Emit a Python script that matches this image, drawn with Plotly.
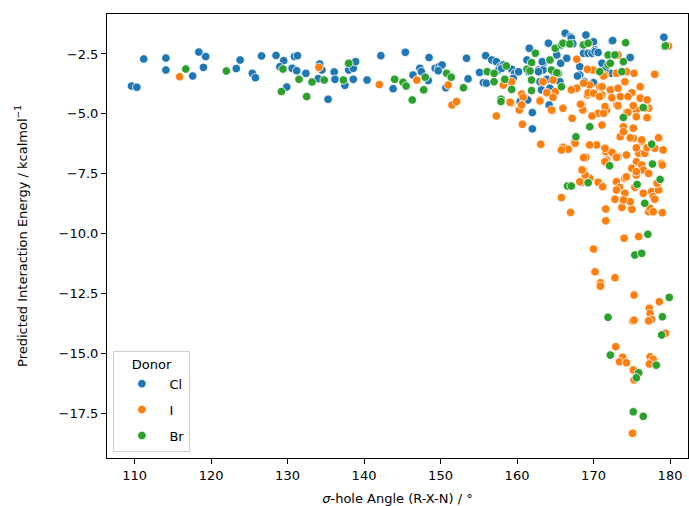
import plotly.graph_objects as go

# Donor = Cl : (sigma-hole angle, predicted interaction energy)
cl_data = [
    (109.6,-3.84),(110.3,-3.89),(111.2,-2.71),(114.1,-2.67),(114.1,-3.17),(117.6,-3.42),(118.4,-2.42),
    (119.3,-2.61),(119.0,-3.06),(123.3,-3.11),(123.8,-2.75),(125.4,-3.31),(125.8,-3.49),(126.6,-2.58),
    (128.5,-2.56),(129.5,-2.78),(129.0,-3.03),(130.9,-2.61),(131.3,-2.57),(130.6,-3.10),(131.2,-3.20),
    (129.9,-3.88),(132.4,-3.31),(134.0,-3.53),(134.2,-2.92),(134.5,-3.17),(135.3,-4.39),(136.1,-3.25),
    (136.2,-3.56),(137.5,-3.81),(138.0,-3.17),(138.6,-3.10),(138.9,-2.82),(138.6,-3.56),(140.4,-3.59),
    (142.2,-2.57),(143.8,-3.95),(145.4,-2.43),(146.4,-3.38),(147.3,-3.10),(147.5,-3.24),(148.4,-3.61),
    (148.5,-2.65),(149.3,-3.10),(149.8,-3.03),(150.2,-2.96),(149.7,-3.20),(150.7,-3.91),(153.4,-2.68),
    (153.6,-3.54),(155.1,-3.27),(155.6,-3.70),(156.0,-3.72),(155.9,-2.57),
    (156.7,-2.75),(157.3,-2.82),(157.8,-3.03),(158.2,-2.96),(157.6,-3.17),(158.0,-3.10),(159.3,-3.14),
    (159.7,-3.31),(159.5,-3.52),(160.2,-3.24),(161.6,-2.26),(161.3,-2.75),(161.5,-3.24),(162.8,-3.17),
    (163.4,-2.89),(163.4,-3.17),(163.3,-2.82),(164.3,-2.75),(162.8,-3.24),(163.0,-3.66),(163.9,-3.56),
    (164.1,-2.05),(165.2,-2.54),(164.7,-3.24),(165.6,-3.66),(163.2,-4.00),(163.9,-4.08),(164.3,-3.93),
    (165.7,-2.89),(166.3,-1.63),(167.0,-1.78),(167.1,-1.84),(166.5,-2.68),(167.3,-2.07),(168.2,-3.03),
    (168.2,-3.38),(169.0,-1.71),(167.9,-3.42),(168.6,-2.12),(168.7,-2.47),(169.3,-2.47),(170.0,-1.99),
    (170.2,-2.33),(169.8,-2.47),(170.2,-2.40),(170.6,-2.44),(172.4,-1.96),(172.5,-1.94),(179.2,-1.80),
    (174.7,-2.65),(174.8,-2.65),(171.1,-2.89),(170.0,-3.17),(172.2,-3.31),(171.5,-3.17),(170.0,-3.70),
    (168.8,-3.66),(160.4,-4.49),(161.4,-4.42),(162.0,-4.95),(162.0,-5.63),(164.2,-4.63),
]

# Donor = I
i_data = [
    (115.9,-3.45),(134.1,-3.06),(142.0,-3.78),(146.9,-3.59),(151.0,-3.80),(151.5,-4.63),(152.1,-4.49),
    (158.2,-3.80),(159.3,-3.66),(157.3,-5.09),(159.2,-4.56),(160.3,-4.84),(160.6,-4.17),(160.8,-4.31),
    (160.6,-4.63),(160.7,-5.44),(163.1,-6.27),(163.0,-4.42),(164.6,-4.87),(166.0,-4.77),(166.0,-6.40),
    (166.7,-6.48),(167.5,-6.19),(167.2,-5.19),(168.5,-4.63),(168.6,-4.84),(169.0,-6.82),(167.8,-2.72),
    (167.8,-3.93),(167.1,-4.00),(163.9,-4.12),(165.0,-4.08),(164.7,-3.59),(164.7,-4.31),(163.4,-3.66),
    (169.5,-3.80),(169.9,-3.17),(169.2,-4.21),(169.2,-3.14),(168.7,-3.72),(169.3,-4.12),(170.8,-3.87),
    (171.5,-3.38),(171.1,-4.21),(172.2,-4.00),(173.0,-3.31),(173.2,-2.54),(174.3,-3.24),(175.3,-3.31),
    (178.0,-3.35),(174.1,-3.66),(176.1,-3.87),(171.3,-3.42),(171.1,-3.87),(173.2,-3.93),(175.0,-4.12),
    (176.1,-4.31),(170.0,-4.14),(179.8,-2.17),(173.5,-4.28),(174.5,-4.28),(176.1,-4.35),(177.0,-4.42),
    (177.2,-4.77),(175.6,-4.84),(174.3,-4.95),(173.0,-4.63),(171.7,-4.84),(170.6,-4.98),(169.8,-5.09),
    (171.1,-5.47),(175.6,-5.12),(177.0,-5.15),(175.2,-5.60),(173.9,-5.54),(173.5,-5.96),(175.2,-6.02),
    (176.3,-6.16),(178.5,-6.00),(170.4,-6.30),(169.5,-6.30),(171.6,-6.58),(172.6,-6.68),(174.3,-6.72),
    (175.9,-6.65),(176.7,-6.65),(178.0,-6.44),(179.1,-6.51),(175.6,-7.00),(178.9,-7.07),(168.5,-7.32),
    (170.8,-4.28),(172.4,-4.33),(171.5,-4.70),(173.2,-4.66),(171.3,-4.98),(175.2,-4.66),(176.7,-4.77),
    (174.5,-4.94),(177.0,-5.16),(173.9,-5.75),(174.8,-6.00),(176.3,-6.09),(172.4,-6.61),(173.2,-6.79),
    (175.6,-6.42),(177.0,-6.42),(171.7,-6.93),(175.0,-7.25),(176.3,-7.14),(176.5,-7.35),(171.5,-6.44),
    (165.8,-6.51),(171.5,-7.00),(173.0,-6.82),(175.0,-7.28),(179.0,-7.14),(168.7,-7.38),(168.5,-7.86),
    (169.5,-7.69),(170.6,-7.86),(171.2,-8.05),(165.8,-8.50),(167.0,-9.12),(171.6,-8.98),(171.6,-9.47),
    (173.0,-7.83),(173.4,-8.07),(174.1,-7.69),(175.4,-8.07),(176.5,-8.32),(177.6,-8.25),(178.5,-8.18),
    (179.0,-9.13),(177.2,-9.09),(175.0,-8.99),(173.7,-8.91),(172.8,-8.57),(174.8,-8.67),(174.1,-8.32),
    (173.0,-8.18),(177.8,-8.46),(178.3,-7.90),(175.6,-7.56),(177.2,-7.49),(168.2,-7.84),(168.9,-7.56),
    (173.9,-8.60),(174.3,-7.63),(175.6,-7.42),(177.4,-8.95),(178.0,-8.57),(177.8,-9.09),
    (174.0,-10.20),(175.9,-10.13),(170.0,-10.65),(170.2,-11.60),(172.8,-11.85),(170.9,-12.06),
    (170.9,-12.20),(175.3,-12.57),(178.6,-12.85),(177.3,-13.10),(177.3,-13.13),(177.4,-13.34),
    (177.6,-13.59),(177.2,-13.65),(175.1,-13.65),(175.3,-13.62),(179.4,-14.17),(172.9,-14.73),
    (173.8,-15.17),(173.4,-15.36),(174.3,-15.40),(175.2,-15.70),(175.3,-16.12),(177.4,-15.15),
    (177.8,-15.26),(177.3,-15.45),(175.1,-18.35),
    (159.1,-4.52),(163.0,-4.46),(164.5,-4.84),(167.6,-6.23),(168.3,-4.60),(168.7,-6.83),(168.5,-7.35),
]

# Donor = Br
br_data = [
    (116.7,-3.13),(122.0,-3.21),(129.4,-3.13),(129.2,-4.07),(131.5,-3.56),(132.5,-4.28),(133.2,-3.67),
    (134.8,-3.59),(137.3,-3.59),(138.0,-2.89),(144.0,-3.56),(145.1,-3.68),(145.5,-3.84),(146.3,-4.42),
    (147.8,-4.00),(148.0,-3.47),(150.8,-3.31),(151.4,-3.47),(153.0,-3.91),(156.1,-3.24),
    (157.0,-3.31),(157.0,-3.66),(158.4,-3.56),(158.6,-3.00),(159.3,-3.98),(157.9,-4.39),(157.9,-4.49),
    (162.4,-2.47),(161.9,-2.86),(161.3,-3.14),(161.7,-3.21),(161.9,-3.59),(164.3,-2.75),(165.0,-2.26),
    (164.5,-3.17),(165.4,-3.31),(165.2,-3.28),(161.9,-4.03),(165.8,-2.12),(166.0,-2.05),(166.9,-2.08),
    (168.7,-2.12),(169.3,-2.05),(165.8,-3.87),(174.2,-2.03),(179.3,-2.19),(179.4,-2.16),(171.9,-2.54),
    (172.8,-2.54),(173.9,-2.82),(171.9,-2.96),(172.2,-2.89),(173.7,-3.24),(170.8,-3.24),
    (173.9,-5.15),(169.5,-5.54),(167.7,-5.96),(176.5,-4.74),(177.6,-6.27),(172.1,-7.17),(177.7,-7.10),
    (178.7,-7.74),(166.6,-8.02),(167.1,-8.02),(169.3,-7.88),(175.7,-7.95),(176.7,-8.74),(177.1,-10.03),
    (175.4,-10.90),(176.3,-10.83),(179.9,-12.67),(171.9,-13.50),(179.0,-13.48),(178.9,-14.24),
    (172.2,-15.08),(175.9,-15.82),(175.6,-16.03),(178.2,-15.50),(175.2,-17.45),(176.5,-17.64),
]

series = [("Cl", cl_data, "#1f77b4"), ("I", i_data, "#ff7f0e"), ("Br", br_data, "#2ca02c")]

x_ticks = [110, 120, 130, 140, 150, 160, 170, 180]
y_ticks = [-2.5, -5.0, -7.5, -10.0, -12.5, -15.0, -17.5]

FONT = "DejaVu Sans"

fig = go.Figure()
for name, data, color in series:
    fig.add_trace(go.Scatter(
        x=[p[0] for p in data], y=[p[1] for p in data],
        mode="markers", name=name, legendgroup=name,
        marker=dict(color=color, size=8.5, line=dict(color="white", width=0.8)),
    ))

axis_common = dict(
    showgrid=False, zeroline=False, showline=True, linecolor="black", linewidth=1,
    mirror=True, ticks="outside", ticklen=5, tickwidth=1, tickcolor="black",
    tickfont=dict(family=FONT, size=13, color="black"),
)

fig.update_layout(
    width=689, height=506,
    margin=dict(l=107, r=1, t=14, b=48),
    paper_bgcolor="white", plot_bgcolor="white",
    font=dict(family=FONT, size=13, color="black"),
    xaxis=dict(range=[106.4, 182.35], tickvals=x_ticks, ticktext=[str(v) for v in x_ticks],
               title=dict(text="<i>σ</i>-hole Angle (R-X-N) / °", standoff=12,
                          font=dict(family=FONT, size=13)),
               **axis_common),
    yaxis=dict(range=[-19.38, -0.83], tickvals=y_ticks, tickformat=".1f",
               title=dict(text="Predicted Interaction Energy / kcalmol<sup>−1</sup>", standoff=28,
                          font=dict(family=FONT, size=13)),
               **axis_common),
    legend=dict(
        x=0.011, y=0.014, xanchor="left", yanchor="bottom",
        bgcolor="rgba(255,255,255,0.8)", bordercolor="#d0d0d0", borderwidth=1,
        title=dict(text="Donor", side="top center", font=dict(family=FONT, size=13)),
        font=dict(family=FONT, size=13), itemwidth=45, tracegroupgap=6,
    ),
    showlegend=True,
)

fig.write_html("out.html", config={"displayModeBar": False},
               post_script="document.body.style.margin='0';document.body.style.overflow='hidden';")
